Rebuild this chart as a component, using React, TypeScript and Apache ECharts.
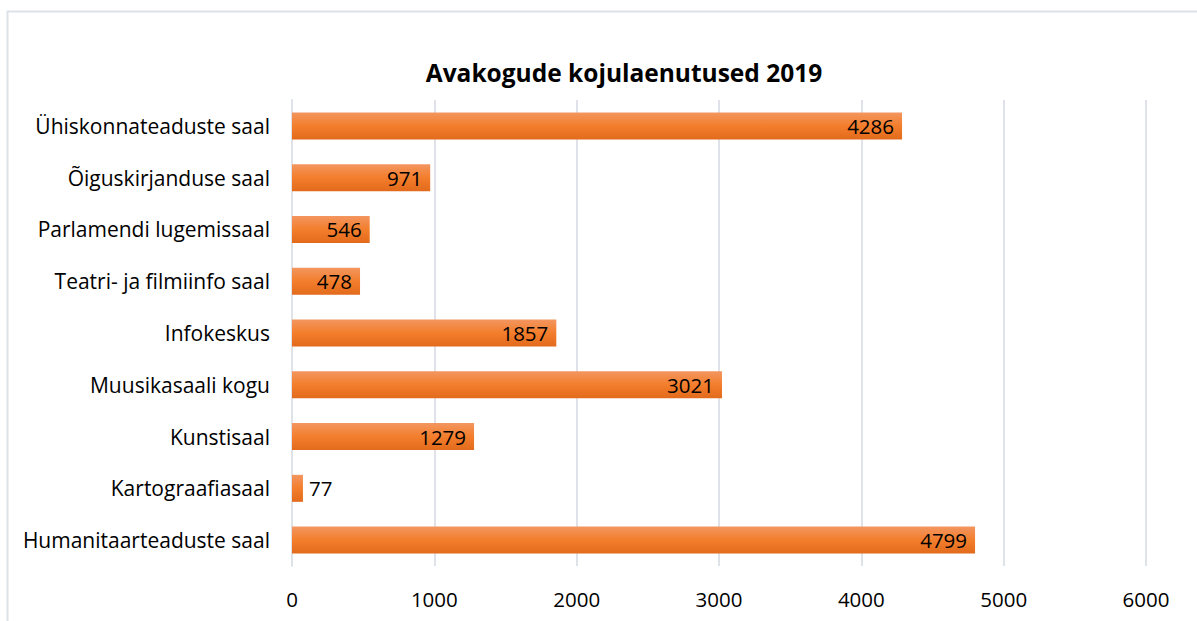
import React, { useEffect, useRef } from "react";
import * as echarts from "echarts";

const categories = [
  "Ühiskonnateaduste saal",
  "Õiguskirjanduse saal",
  "Parlamendi lugemissaal",
  "Teatri- ja filmiinfo saal",
  "Infokeskus",
  "Muusikasaali kogu",
  "Kunstisaal",
  "Kartograafiasaal",
  "Humanitaarteaduste saal",
];
const values = [4286, 971, 546, 478, 1857, 3021, 1279, 77, 4799];
const xTicks = [0, 1000, 2000, 3000, 4000, 5000, 6000];

export default function App() {
  const ref = useRef<HTMLDivElement>(null);
  useEffect(() => {
    const chart = echarts.init(ref.current!, null, { renderer: "svg" });
    const font = "'Open Sans', sans-serif";
    chart.setOption({
      animation: false,
      backgroundColor: "#ffffff",
      textStyle: { fontFamily: font },
      title: {
        text: "Avakogude kojulaenutused 2019",
        left: 619,
        top: 55,
        textAlign: "center",
        textStyle: { fontFamily: font, fontWeight: "bold", fontSize: 24.5, color: "#000" },
      },
      graphic: [
        {
          type: "rect",
          shape: { x: 7.5, y: 11.5, width: 1200, height: 700 },
          style: { fill: "none", stroke: "#dde2e8", lineWidth: 2 },
          silent: true,
        },
      ],
      grid: { left: 292, right: 51, top: 100, bottom: 55, containLabel: false },
      xAxis: {
        type: "value",
        min: xTicks[0],
        max: xTicks[xTicks.length - 1],
        interval: 1000,
        axisLine: { show: false },
        axisTick: { show: false },
        splitLine: { show: true, lineStyle: { color: "#dfe3e9", width: 2 } },
        axisLabel: {
          fontFamily: font,
          fontSize: 20.5,
          color: "#000",
          margin: 22,
          formatter: (v: number) => String(v),
        },
      },
      yAxis: {
        type: "category",
        data: categories,
        inverse: true,
        axisLine: { show: true, lineStyle: { color: "#dfe3e9", width: 2 } },
        axisTick: { show: false },
        axisLabel: { fontFamily: font, fontSize: 21, color: "#000", margin: 22 },
      },
      series: [
        {
          type: "bar",
          barWidth: 27,
          data: values.map((v) => ({
            value: v,
            label: v < 300 ? { position: "right", distance: 6 } : { position: "insideRight", distance: 8 },
          })),
          itemStyle: {
            color: new echarts.graphic.LinearGradient(0, 0, 0, 1, [
              { offset: 0, color: "#f39660" },
              { offset: 0.5, color: "#f37e2c" },
              { offset: 1, color: "#e26a1c" },
            ]),
          },
          label: {
            show: true,
            fontFamily: font,
            fontSize: 20.5,
            color: "#000",
          },
        },
      ],
    });
    return () => chart.dispose();
  }, []);
  return (
    <div
      ref={ref}
      style={{ position: "fixed", left: 0, top: 0, width: 1197, height: 621 }}
    />
  );
}
